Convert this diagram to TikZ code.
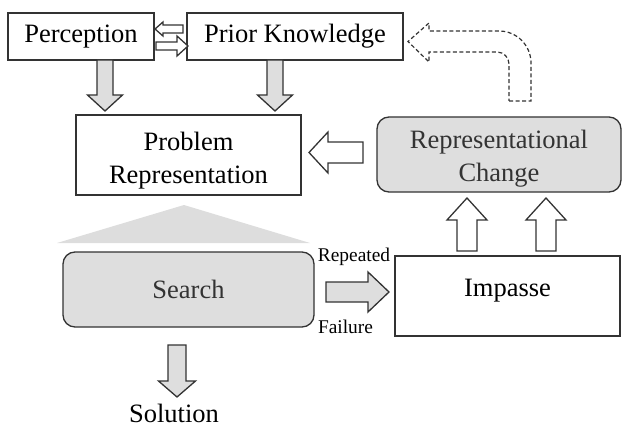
\documentclass[tikz,border=0pt]{standalone}
\usepackage{fontspec}
\setmainfont{Liberation Serif}
\usetikzlibrary{positioning}
\definecolor{boxline}{HTML}{333333}
\definecolor{boxgray}{HTML}{DEDEDE}
\definecolor{fangray}{HTML}{DDDDDD}

% block arrows: style, x, y tail, y head base, y tip, shaft half, head half
\newcommand{\vblock}[7]{\draw[#1] (#2-#6,#3) -- (#2+#6,#3) -- (#2+#6,#4) -- (#2+#7,#4) -- (#2,#5) -- (#2-#7,#4) -- (#2-#6,#4) -- cycle;}
% style, y, x tail, x head base, x tip, shaft half, head half
\newcommand{\hblock}[7]{\draw[#1] (#3,#2-#6) -- (#3,#2+#6) -- (#4,#2+#6) -- (#4,#2+#7) -- (#5,#2) -- (#4,#2-#7) -- (#4,#2-#6) -- cycle;}

\tikzset{
  plainbox/.style={draw=boxline,line width=1.3pt,fill=white,inner sep=0pt,
    font=\fontsize{26.5}{33}\selectfont,align=center},
  roundbox/.style={plainbox,fill=boxgray,rounded corners=12pt,text=black!80},
  fatarrow/.style={draw=boxline,line width=1.3pt,fill=boxgray,line join=miter},
  hollowarrow/.style={fatarrow,fill=white},
  dasharrow/.style={draw=boxline,line width=1.2pt,dash pattern=on 4pt off 2.5pt},
  sidelabel/.style={font=\fontsize{19.4}{22}\selectfont,inner sep=0pt}
}

\begin{document}
\begin{tikzpicture}[x=1pt,y=-1pt]
  \useasboundingbox (0,0) rectangle (622,428);
  % search fan under the problem representation
  \fill[fangray] (184,205) -- (310,243) -- (57,243) -- cycle;

  \node[plainbox,minimum width=146pt,minimum height=47pt] (perc) at (81,36.5) {Perception};
  \node[plainbox,minimum width=216pt,minimum height=47pt] (prior) at (295,36.5) {Prior Knowledge};
  \node[plainbox,minimum width=225pt,minimum height=80pt] (probrep) at (188.5,155) {\rule{0pt}{29pt}Problem\\Representation};
  \node[roundbox,minimum width=244pt,minimum height=75pt] (repchange) at (499,154.5) {\rule{0pt}{27pt}Representational\\Change};
  \node[roundbox,minimum width=251pt,minimum height=75pt] (search) at (188.5,289.5) {Search};
  \node[plainbox,minimum width=225pt,minimum height=80pt,text depth=16pt] (impasse) at (507.5,296) {Impasse};
  \node[font=\fontsize{26.5}{33}\selectfont,inner sep=0pt,anchor=base] (solution) at (174,422) {Solution};
  \node[sidelabel] (repeated) at (354,257) {Repeated};
  \node[sidelabel] (failure) at (345.5,327) {Failure};

  % arrows between the boxes
  \hblock{hollowarrow}{29}{183}{163}{155}{4}{7}
  \hblock{hollowarrow}{46}{156}{177}{188}{4}{10}
  \vblock{fatarrow}{105}{60}{95}{111}{8}{17.5}
  \vblock{fatarrow}{275}{60}{95}{111}{8}{17.5}
  \hblock{hollowarrow}{152.5}{363}{328}{309}{10.5}{20.5}
  \hblock{fatarrow}{292}{326}{368}{389}{10}{20}
  \vblock{hollowarrow}{467}{251}{220}{198}{10}{20}
  \vblock{hollowarrow}{546}{251}{220}{198}{10}{20}
  \vblock{fatarrow}{177}{345}{381}{397}{9}{18.5}

  % feedback to prior knowledge
  \draw[dasharrow] (509,101) -- (531,101) -- (531,63) .. controls (531,45.3) and (516.7,31) .. (499,31)
    -- (429,31) -- (429,23) -- (408,41.5) -- (429,62) -- (429,52) -- (497,52)
    .. controls (503.6,52) and (509,57.4) .. (509,64) -- cycle;
\end{tikzpicture}
\end{document}
